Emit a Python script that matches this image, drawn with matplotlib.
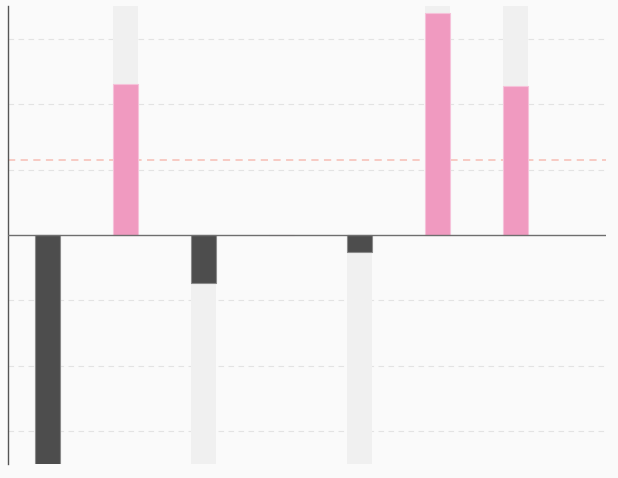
import numpy as np
import matplotlib.pyplot as plt

# Bar values (units of the gridline step)
categories = ["A", "B", "C", "D", "E", "F", "G"]
values = [-3.6, 2.31, -0.735, 0.0, -0.26, 3.39, 2.28]
reference_level = 1.14
y_min, y_max = -3.5, 3.5

pos_color = "#f09ac0"
neg_color = "#4d4d4d"
track_color = "#f0f0f0"
bg_color = "#fafafa"

fig = plt.figure(figsize=(6.18, 4.78), dpi=100, facecolor=bg_color)
ax = fig.add_axes([8.3 / 618, 14 / 478, (606 - 8.3) / 618, (472 - 14) / 478])
ax.set_facecolor(bg_color)

x = np.arange(len(categories))
vals = np.array(values)
width = 0.327

# background tracks in the direction of each bar
track = np.where(vals > 0, y_max, np.where(vals < 0, y_min, 0))
ax.bar(x, track, width=width, color=track_color, zorder=1)

colors = [pos_color if v >= 0 else neg_color for v in vals]
edges = ["#f6c2da" if v >= 0 else "#8a8a8a" for v in vals]
ax.bar(x, vals, width=width, color=colors, edgecolor=edges, linewidth=0.8, zorder=2)

# gridlines
for g in [-3, -2, -1, 1, 2, 3]:
    ax.axhline(g, color="#e3e3e3", linestyle=(0, (5, 4)), linewidth=0.8, zorder=0)

ax.axhline(reference_level, color="#f7c6bf", linestyle=(0, (4, 3)), linewidth=1.3, zorder=0.5)
ax.axhline(0, color="#6e6e6e", linewidth=1.0, zorder=3)

ax.set_xlim(-0.5, 7.16)
ax.set_ylim(y_min, y_max)
ax.set_xticks([])
ax.set_yticks([])
for side in ["top", "right", "bottom"]:
    ax.spines[side].set_visible(False)
ax.spines["left"].set_color("#555555")
ax.spines["left"].set_linewidth(1.0)

fig.savefig("out.png", dpi=100, facecolor=bg_color)
